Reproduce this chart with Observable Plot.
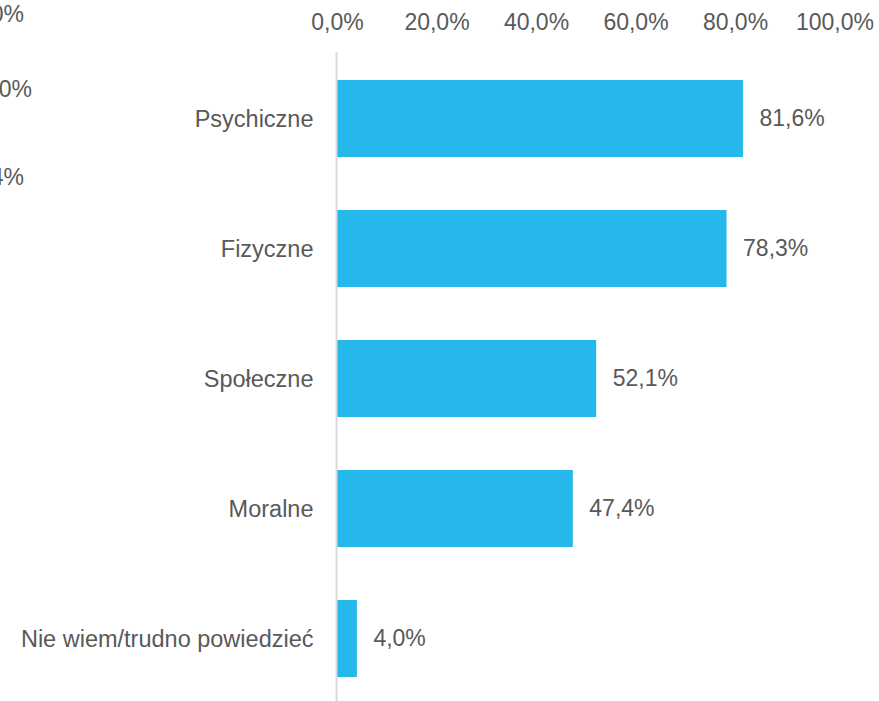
<!DOCTYPE html>
<html>
<head>
<meta charset="utf-8">
<script src="https://cdn.jsdelivr.net/npm/d3@7"></script>
<script src="https://cdn.jsdelivr.net/npm/@observablehq/plot@0.6"></script>
<style>
  html, body { margin: 0; padding: 0; background: #fff; overflow: hidden; }
  #wrap { position: relative; width: 879px; height: 701px; overflow: hidden; }
  #chart { position: absolute; left: 0; top: 0; }
  .frag { position: absolute; font: 23px "Liberation Sans", Arial, sans-serif; color: #595959; white-space: nowrap; line-height: 1; }
</style>
</head>
<body>
<div id="wrap">
  <div id="chart"></div>
</div>
<script>
const categories = ["Psychiczne", "Fizyczne", "Społeczne", "Moralne", "Nie wiem/trudno powiedzieć"];
const values = [81.6, 78.3, 52.1, 47.4, 4.0];
const xTicks = [0, 20, 40, 60, 80, 100];
// clipped fragments of a neighbouring chart visible at the left edge
const fragments = ["70,0%", "80,0%", "44,4%"];
const fragmentTops = [3, 78, 166];
const fragmentRights = [855, 847, 855];

const fmt = v => v.toFixed(1).replace(".", ",") + "%";
const data = categories.map((c, i) => ({category: c, value: values[i]}));

const chart = Plot.plot({
  width: 879,
  height: 705,
  marginTop: 52,
  marginBottom: 0,
  marginLeft: 337,
  marginRight: 44.5,
  style: {fontFamily: "'Liberation Sans', Arial, sans-serif", fontSize: "23px", color: "#595959", background: "#fff"},
  x: {domain: [0, 100], axis: null, label: null},
  y: {domain: categories, paddingInner: 0.41, paddingOuter: 0.205, axis: null, label: null},
  marks: [
    Plot.barX(data, {x: "value", y: "category", fill: "#26b8eb"}),
    Plot.ruleX([0], {stroke: "#d9d9d9", strokeWidth: 2, dx: -1}),
    Plot.axisX(xTicks, {anchor: "top", tickSize: 0, tickPadding: 23, tickFormat: fmt, fill: "#595959", fontSize: 23, label: null}),
    Plot.axisY({anchor: "left", tickSize: 0, tickPadding: 24, fill: "#595959", fontSize: 23.5, label: null}),
    Plot.text(data, {x: "value", y: "category", text: d => fmt(d.value), textAnchor: "start", dx: 16, fill: "#595959", fontSize: 23})
  ]
});
document.getElementById("chart").appendChild(chart);

const wrap = document.getElementById("wrap");
fragments.forEach((t, i) => {
  const d = document.createElement("div");
  d.className = "frag";
  d.style.top = fragmentTops[i] + "px";
  d.style.right = fragmentRights[i] + "px";
  d.textContent = t;
  wrap.appendChild(d);
});
</script>
</body>
</html>
